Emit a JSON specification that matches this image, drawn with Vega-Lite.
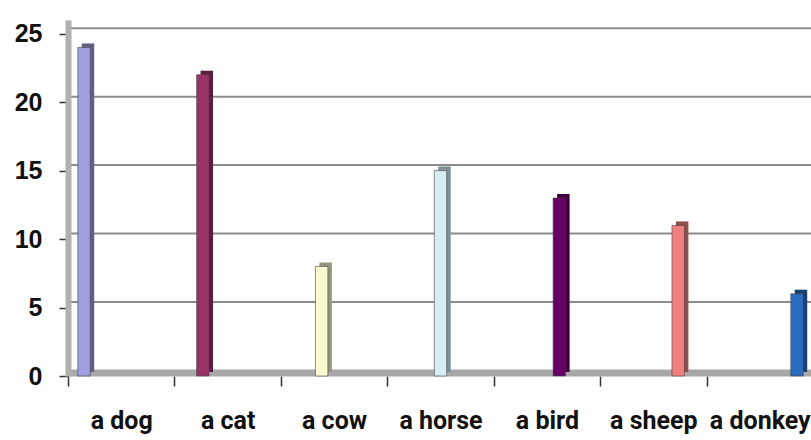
{
  "$schema": "https://vega.github.io/schema/vega-lite/v6.json",
  "autosize": "none",
  "width": 745,
  "height": 356,
  "padding": {"left": 68, "top": 20, "right": 0, "bottom": 64},
  "background": "white",
  "config": {"view": {"stroke": null}},
  "datasets": {
    "bars": [
      {"animal": "a dog", "count": 24},
      {"animal": "a cat", "count": 22},
      {"animal": "a cow", "count": 8},
      {"animal": "a horse", "count": 15},
      {"animal": "a bird", "count": 13},
      {"animal": "a sheep", "count": 11},
      {"animal": "a donkey", "count": 6}
    ],
    "grid": [
      {"level": 5}, {"level": 10}, {"level": 15}, {"level": 20}, {"level": 25}
    ],
    "floor": [{"level": 0}]
  },
  "resolve": {"scale": {"xOffset": "independent"}},
  "layer": [
    {
      "data": {"name": "grid"},
      "mark": {"type": "rule", "color": "#8c8c8c", "strokeWidth": 2, "yOffset": -5.5},
      "encoding": {
        "y": {"field": "level", "type": "quantitative", "scale": {"domain": [0, 25]},
          "axis": {
            "values": [0, 5, 10, 15, 20, 25],
            "title": null,
            "grid": false,
            "zindex": 1,
            "labelFont": "Liberation Sans",
            "labelFontWeight": "bold",
            "labelFontSize": 25,
            "labelColor": "#111",
            "labelPadding": 17,
            "tickSize": 9,
            "tickColor": "#333",
            "tickWidth": 1.5,
            "domainColor": "#b0b0b0",
            "domainWidth": 6
          }
        }
      }
    },
    {
      "data": {"name": "floor"},
      "mark": {"type": "rule", "color": "#a8a8a8", "strokeWidth": 7, "yOffset": -3},
      "encoding": {"y": {"field": "level", "type": "quantitative"}}
    },
    {
      "data": {"name": "bars"},
      "mark": {"type": "bar", "yOffset": -4, "y2Offset": -2},
      "encoding": {
        "x": {"field": "animal", "type": "nominal", "sort": null,
          "scale": {"paddingInner": 0, "paddingOuter": 0},
          "axis": {
            "title": null,
            "labelAngle": 0,
            "tickBand": "extent",
            "domain": false,
            "tickSize": 10,
            "tickColor": "#333",
            "tickWidth": 1.5,
            "labelFont": "Roboto",
            "labelFontWeight": "bold",
            "labelFontSize": 25,
            "labelColor": "#111",
            "labelPadding": 22
          }
        },
        "xOffset": {"field": "animal", "type": "nominal", "sort": null,
          "scale": {"paddingInner": 0, "paddingOuter": 0.79, "range": [4, 110.4]}},
        "y": {"field": "count", "type": "quantitative"},
        "color": {"field": "animal", "type": "nominal", "sort": null, "legend": null,
          "scale": {
            "domain": ["a dog", "a cat", "a cow", "a horse", "a bird", "a sheep", "a donkey"],
            "range": ["#a0a0e0", "#993366", "#fafad0", "#d4eef4", "#660066", "#f08080", "#2a6cc0"]
          }
        }
      }
    },
    {
      "data": {"name": "bars"},
      "mark": {"type": "bar", "yOffset": -4, "y2Offset": -2, "color": "black", "opacity": 0.4},
      "encoding": {
        "x": {"field": "animal", "type": "nominal", "sort": null},
        "xOffset": {"field": "animal", "type": "nominal", "sort": null,
          "scale": {"paddingInner": 0, "paddingOuter": 0.79, "range": [4, 110.4]}},
        "y": {"field": "count", "type": "quantitative"}
      }
    },
    {
      "data": {"name": "bars"},
      "mark": {"type": "bar", "stroke": "#444", "strokeWidth": 0.6},
      "encoding": {
        "x": {"field": "animal", "type": "nominal", "sort": null},
        "xOffset": {"field": "animal", "type": "nominal", "sort": null,
          "scale": {"paddingInner": 0, "paddingOuter": 0.79}},
        "y": {"field": "count", "type": "quantitative"},
        "color": {"field": "animal", "type": "nominal", "sort": null, "legend": null}
      }
    }
  ]
}
